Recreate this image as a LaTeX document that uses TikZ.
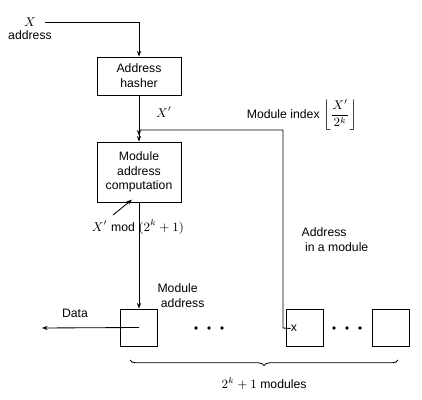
\documentclass[tikz,border=0pt]{standalone}
\usepackage{amsmath}
\usepackage{fontspec}
\setmainfont{Liberation Sans}
\usepackage{tikz}
\usetikzlibrary{arrows.meta, positioning, decorations.pathreplacing}

\begin{document}
\begin{tikzpicture} [x=0.025cm, y=-0.025cm, line width=0.6pt,
    font=\fontsize{8.7}{10.5}\selectfont,
    block/.style = {draw, align=center, minimum width=2.1cm, inner sep=2pt},
    module/.style = {draw, minimum size=0.925cm, inner sep=0pt},
    tip/.style = {-{Stealth[length=4pt, width=3pt]}},
    lbl/.style = {inner sep=1pt}]
\useasboundingbox (0,0) rectangle (422,400);

% input and hashing
\node (xlbl) [lbl] at (30,22) {$X$};
\node (xaddr) [lbl] at (30,35) {address};
\coordinate (in) at (45,22);
\node (hasher) [block, minimum height=0.95cm] at (139,76) {Address\\hasher};
\coordinate (j) at (139,130);
\node (comp) [block, minimum height=1.5cm] at (139,172) {Module\\address\\computation};

% modules
\node (mod1) [module] at (139,327.5) {};
\node (mod2) [module] at (305,327.5) {};
\node (mod3) [module] at (390.5,327.5) {};
\foreach \x in {196,209,222,334,347,360}
    \fill (\x,328) circle (1.3pt);

\coordinate (corner) at (283,130);
\coordinate (bend) at (283,328);
\node (xmark) [inner sep=0pt] at (294,328.5) {x};
\coordinate (dataend) at (42,328);
\coordinate (modfrom) at (113,215);

% connectors
\draw [tip] (in) -| (hasher.north);
\draw [tip] (hasher.south) -- ([yshift=-4pt]j);
\draw [tip] (j) -- (comp.north);
\draw (j) -- (corner) -- (bend) -- (xmark.west);
\draw [tip] (comp.south) -- (mod1.north);
\draw [tip] (mod1.center) -- (dataend);
\draw [tip] (modfrom) -- ([xshift=-5pt, yshift=2pt]comp.south);

% labels
\node (xprime) [lbl] at (164,112) {$X'$};
\node (index) [lbl] at (302,115) {Module index $\left\lfloor \dfrac{X'}{2^k} \right\rfloor$};
\node (modexpr) [lbl] at (138,227) {$X' \bmod (2^k + 1)$};
\node (data) [lbl] at (75,313) {Data};
\node (modaddr) [lbl, align=left] at (181,296) {Module\\\ address};
\node (inmod) [lbl, align=left] at (335,240) {Address\\\ in a module};

% brace under the modules
\draw [decorate, decoration={brace, mirror, amplitude=4pt}]
    (130,360) -- (398,360) node (count) [midway, below=9pt] {$2^k + 1$ modules};

\end{tikzpicture}
\end{document}
